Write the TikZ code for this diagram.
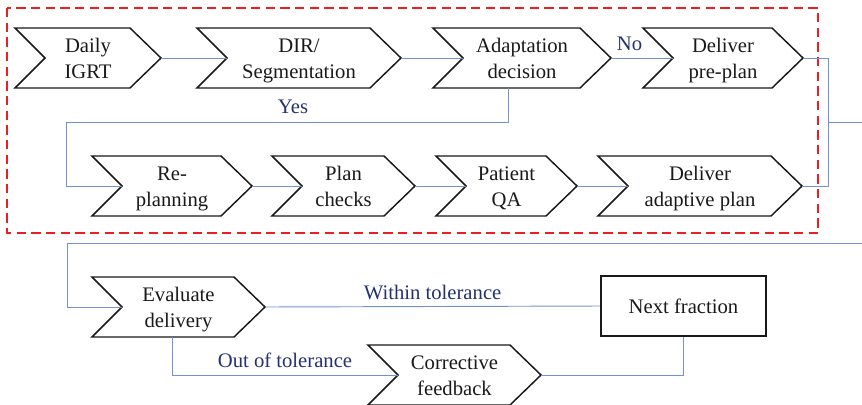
\documentclass[tikz,border=0pt]{standalone}
\usepackage{fontspec}
\setmainfont{Liberation Serif}
\usepackage{xcolor}
\usepackage{tikz}
\usetikzlibrary{positioning, calc}
\definecolor{wireblue}{RGB}{112,146,210}
\definecolor{labelblue}{RGB}{35,50,110}
\definecolor{boxred}{RGB}{235,30,35}
\tikzset{
  chev/.style    ={draw=black!90, line width=1.1pt, line join=miter},
  chevtext/.style={align=center, inner sep=0pt,
                   text=black!90, font=\fontsize{15.5}{19.5}\selectfont,
                   execute at begin node={\strut}, execute at end node={\strut}},
  nextbox/.style ={draw=black!90, line width=1.2pt, minimum width=123.75pt,
                   minimum height=45pt, text=black!90,
                   font=\fontsize{15.5}{19.5}\selectfont},
  wire/.style    ={draw=wireblue, line width=0.7pt},
  lbl/.style     ={text=labelblue, font=\fontsize{15.5}{18}\selectfont, inner sep=2pt},
  toplbl/.style  ={lbl, above, inner sep=5pt},
  frame/.style   ={draw=boxred, line width=1pt, dash pattern=on 7pt off 4pt}
}
% chevron: name, left x, tip x, mid y, text
\newcommand{\chevron}[5]{%
  \draw[chev] (#2,#4-30) -- (#3-31,#4-30) -- (#3,#4) -- (#3-31,#4+30)
    -- (#2,#4+30) -- (#2+30,#4) -- cycle;
  \node[chevtext] (#1) at ({(#2+#3)/2},#4+4.5) {#5};
  \coordinate (#1-in)  at (#2+30,#4);
  \coordinate (#1-out) at (#3,#4);
  \coordinate (#1-bot) at ({(#2+#3)/2},#4+30);
}

\begin{document}
\begin{tikzpicture}[x=0.75pt, y=-0.75pt]
  \useasboundingbox (0,0) rectangle (862,404);

  % online adaptive part
  \draw[frame] (7,8) rectangle (818,233);

  % first row
  \chevron{igrt}{15}{161}{58}{Daily\\IGRT}
  \chevron{dir}{197}{401}{58}{DIR/\\Segmentation}
  \chevron{adapt}{433}{611}{58}{Adaptation\\decision}
  \chevron{preplan}{643}{803}{58}{Deliver\\pre-plan}

  % second row
  \chevron{replan}{92}{252}{186}{Re-\\planning}
  \chevron{checks}{272}{415}{186}{Plan\\checks}
  \chevron{pqa}{436}{577}{186}{Patient\\QA}
  \chevron{adaptive}{598}{802}{186}{Deliver\\adaptive plan}

  % after delivery
  \chevron{eval}{92}{265}{307}{Evaluate\\delivery}
  \chevron{corr}{368}{541}{375}{Corrective\\feedback}
  \node[nextbox] (next) at (683.5,306) {Next fraction};

  \coordinate (yesbend) at (66,122);
  \coordinate (merge)   at (828,122);
  \coordinate (exitA)   at (862,122);
  \coordinate (entry)   at (862,243);
  \coordinate (evbend)  at (67,243);

  % first row
  \draw[wire] (igrt-out) -- (dir-in);
  \draw[wire] (dir-out) -- (adapt-in);
  \draw[wire] (adapt-out) -- node[toplbl, pos=0.3] (no) {No} (preplan-in);
  % yes branch
  \draw[wire] ([xshift=-10.5pt]adapt-bot) |- (yesbend) |- (replan-in);
  \node[lbl] (yes) at (293,107) {Yes};
  % second row
  \draw[wire] (replan-out) -- (checks-in);
  \draw[wire] (checks-out) -- (pqa-in);
  \draw[wire] (pqa-out) -- (adaptive-in);
  % both deliveries join
  \draw[wire] (preplan-out) -| (merge) |- (adaptive-out);
  \draw[wire] (merge) -- (exitA);
  % to evaluation
  \draw[wire] (entry) -- (evbend) |- (eval-in);
  \draw[wire] (eval-out) -- node[toplbl] (within) {Within tolerance} (next.west);
  \draw[wire] ([xshift=-4.9pt]eval-bot) |- node[toplbl, pos=0.75] (outtol) {Out of tolerance} (corr-in);
  \draw[wire] (corr-out) -| (next.south);
\end{tikzpicture}
\end{document}
